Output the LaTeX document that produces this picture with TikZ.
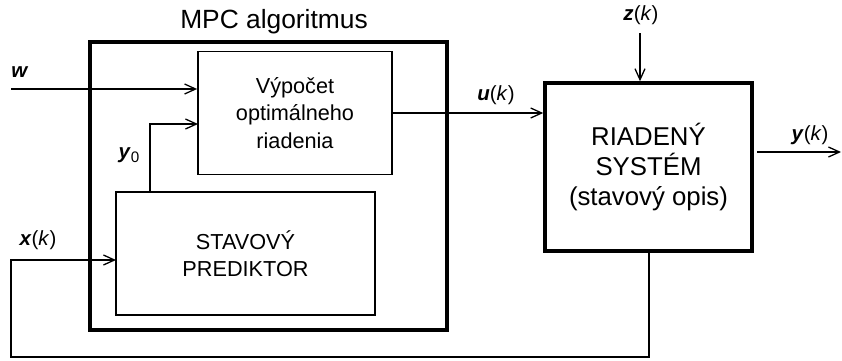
\documentclass[tikz,border=0pt]{standalone}
\usepackage{fontspec}
\setmainfont{Liberation Sans}
\usetikzlibrary{arrows.meta}

\newcommand{\sig}[2]{\textbf{\textit{#1}}#2}

\begin{document}
\begin{tikzpicture}[
    x=0.03cm, y=-0.03cm,
    % GLOBAL CFG
    font=\fontsize{18.5}{23.5}\selectfont,
    >={Straight Barb[length=3.3mm, width=3mm]},
    % Styles
    algo/.style={% MPC frame
        rectangle,
        draw,
        line width=3.2pt,
        minimum width=10.71cm,
        minimum height=8.64cm,
        },
    block/.style={% inner blocks
        rectangle,
        draw,
        line width=1.5pt,
        align=center,
        },
    plant/.style={% controlled system
        rectangle,
        draw,
        line width=3pt,
        align=center,
        font=\fontsize{22}{25.5}\selectfont,
        },
    signal/.style={% signal names
        font=\fontsize{17.5}{20}\selectfont,
        },
    ArrowS/.style={% signal lines
        line width=1.1pt,
        },
    ]

\useasboundingbox (0,0) rectangle (842,360);

    % Draw the frame
    \node [algo] (mpc) at (268.5,186) {};
    \node [font=\fontsize{22.5}{25}\selectfont] (mpc_title) at (274,22) {MPC algoritmus};

    % Draw blocks
    \node [block, minimum width=5.82cm, minimum height=3.69cm] (vypocet) at (295,113)
        {V\'ypo\v{c}et\\optim\'alneho\\riadenia};
    \node [block, minimum width=7.77cm, minimum height=3.69cm] (prediktor) at (245.5,253.5)
        {STAVOV\'Y\\PREDIKTOR};
    \node [plant, minimum width=6.21cm, minimum height=5.04cm] (system) at (648.5,167)
        {RIADEN\'Y\\SYST\'EM\\(stavov\'y opis)};

    % Signal names
    \node [signal] (w_lbl) at (20,72) {\sig{w}{}};
    \node [signal] (y0_lbl) at (129,155) {\sig{y}{\raisebox{-0.35ex}{\fontsize{13}{13}\selectfont 0}}};
    \node [signal] (x_lbl) at (38,240) {\sig{x}{(\textit{k})}};
    \node [signal] (u_lbl) at (496,95) {\sig{u}{(\textit{k})}};
    \node [signal] (z_lbl) at (641,15) {\sig{z}{(\textit{k})}};
    \node [signal] (y_lbl) at (810,135) {\sig{y}{(\textit{k})}};

    % Free ends
    \coordinate (w_in) at (11,89);
    \coordinate (y0_out) at (150,192);
    \coordinate (y0_in) at (198,124);
    \coordinate (z_in) at (640,33);
    \coordinate (y_out) at (757,152);
    \coordinate (y_end) at (841,152);
    \coordinate (fb_down) at (649,357);
    \coordinate (fb_left) at (11,357);
    \coordinate (fb_in) at (116,260);

% Connecting
    \draw [->, ArrowS] (w_in) -- (w_in -| vypocet.west);
    \draw [->, ArrowS] (y0_out) |- (y0_in);
    \draw [->, ArrowS] (vypocet.east) -- (vypocet.east -| system.west);
    \draw [->, ArrowS] (z_in) -- (z_in |- system.north);
    \draw [->, ArrowS] (y_out) -- (y_end);

    % Feedback x(k)
    \draw [->, ArrowS] (fb_down |- system.south) -- (fb_down) -- (fb_left) |- (fb_in);

\end{tikzpicture}
\end{document}
